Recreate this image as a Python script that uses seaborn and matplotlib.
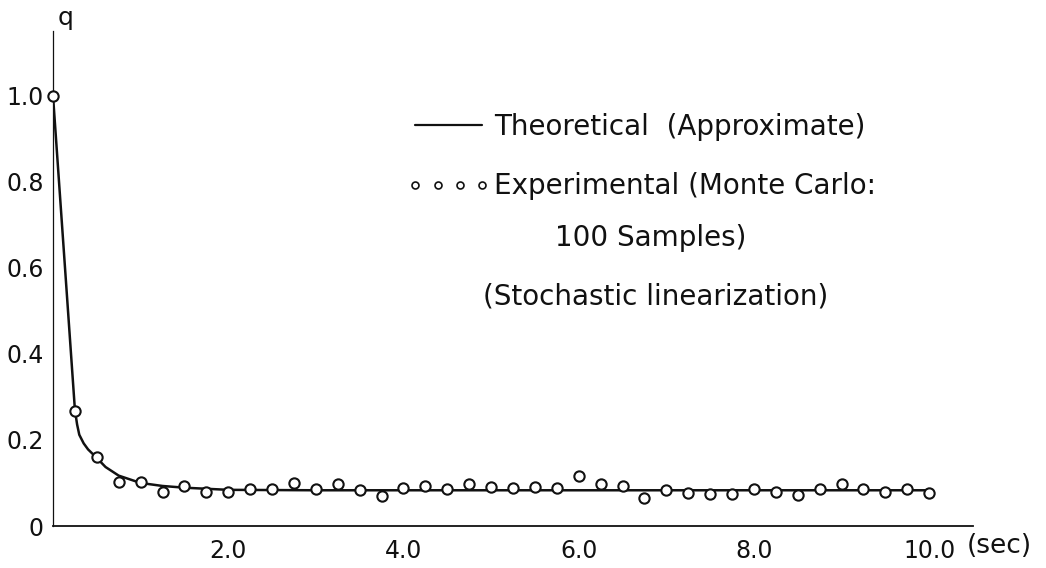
import matplotlib
matplotlib.use("Agg")
import matplotlib.pyplot as plt
import pandas as pd
import seaborn as sns
from matplotlib.lines import Line2D

# Theoretical (approximate) decay of q, stochastic linearization
t_theory = [0.0, 0.25, 0.275, 0.3, 0.35, 0.4, 0.5, 0.6, 0.75, 1.0, 1.25, 1.5,
            2.0, 3.0, 4.0, 5.0, 6.0, 7.0, 8.0, 9.0, 10.0]
q_theory = [1.0, 0.27, 0.236, 0.212, 0.192, 0.178, 0.158, 0.137, 0.117, 0.100,
            0.093, 0.089, 0.084, 0.083, 0.083, 0.083, 0.083, 0.083, 0.083,
            0.083, 0.083]

# Monte Carlo estimates (100 samples), every 0.25 s
t_mc = [0.0, 0.25, 0.5, 0.75, 1.0, 1.25, 1.5, 1.75, 2.0, 2.25, 2.5, 2.75,
        3.0, 3.25, 3.5, 3.75, 4.0, 4.25, 4.5, 4.75, 5.0, 5.25, 5.5, 5.75,
        6.0, 6.25, 6.5, 6.75, 7.0, 7.25, 7.5, 7.75, 8.0, 8.25, 8.5, 8.75,
        9.0, 9.25, 9.5, 9.75, 10.0]
q_mc = [1.0, 0.267, 0.160, 0.102, 0.102, 0.078, 0.094, 0.080, 0.080, 0.086,
        0.085, 0.100, 0.086, 0.097, 0.083, 0.070, 0.088, 0.094, 0.086, 0.098,
        0.091, 0.089, 0.091, 0.088, 0.117, 0.097, 0.094, 0.066, 0.083, 0.076,
        0.074, 0.074, 0.086, 0.079, 0.073, 0.087, 0.097, 0.087, 0.080, 0.085,
        0.077]

x_ticks = [2, 4, 6, 8, 10]
x_tick_labels = ["2.0", "4.0", "6.0", "8.0", "10.0"]
y_ticks = [0, 0.2, 0.4, 0.6, 0.8, 1.0]
y_tick_labels = ["0", "0.2", "0.4", "0.6", "0.8", "1.0"]

theory = pd.DataFrame({"t": t_theory, "q": q_theory})
mc = pd.DataFrame({"t": t_mc, "q": q_mc})

sns.set_theme(style="white")
plt.rcParams["font.family"] = ["DejaVu Sans"]
INK = "#111111"

W, H = 1046, 568
fig = plt.figure(figsize=(W / 100, H / 100), dpi=100)
ax = fig.add_axes([53 / W, (H - 526) / H, 920 / W, 495 / H])

sns.lineplot(data=theory, x="t", y="q", ax=ax, color=INK, linewidth=1.8,
             estimator=None, sort=False, zorder=2)
sns.scatterplot(data=mc, x="t", y="q", ax=ax, marker="o", s=55,
                facecolor="white", edgecolor=INK, linewidth=1.5, zorder=3,
                clip_on=False)

ax.set_xlim(0, 10.5)
ax.set_ylim(0, 1.15)
ax.set_xticks(x_ticks, x_tick_labels)
ax.set_yticks(y_ticks, y_tick_labels)
ax.set_xlabel("")
ax.set_ylabel("")

for side in ("top", "right"):
    ax.spines[side].set_visible(False)
ax.spines["left"].set_linewidth(0.9)
ax.spines["bottom"].set_linewidth(1.3)
ax.spines["left"].set_color(INK)
ax.spines["bottom"].set_color(INK)

ax.tick_params(axis="x", direction="inout", length=6, width=0.9, colors=INK,
               labelsize=17, pad=6)
ax.tick_params(axis="y", direction="in", length=5, width=0.9, colors=INK,
               labelsize=17, pad=6.5)
# the zero tick on the y axis carries only its label
ax.yaxis.get_major_ticks()[0].tick1line.set_visible(False)

# axis names
fig.text(58 / W, 1 - 25 / H, "q", fontsize=18, color=INK, va="baseline")
fig.text(967 / W, 1 - 553 / H, "(sec)", fontsize=19, color=INK, va="baseline")

# key
handles = [
    Line2D([], [], color=INK, linewidth=1.6),
    Line2D([], [], color=INK, linestyle="none", marker="o", markersize=5,
           markerfacecolor="white", markeredgewidth=1.2),
]
labels = ["Theoretical  (Approximate)", "Experimental (Monte Carlo:"]
ax.legend(handles, labels, loc="upper left", frameon=False,
          bbox_to_anchor=(407 / W, 1 - 113 / H), bbox_transform=fig.transFigure,
          borderpad=0, borderaxespad=0, handlelength=3.0, handletextpad=0.15,
          labelspacing=1.13, numpoints=4, fontsize=20, labelcolor=INK)
fig.text(555 / W, 1 - 246 / H, "100 Samples)", fontsize=20, color=INK,
         va="baseline")
fig.text(483 / W, 1 - 305 / H, "(Stochastic linearization)", fontsize=20,
         color=INK, va="baseline")

fig.savefig("out.png", dpi=100, facecolor="white")
